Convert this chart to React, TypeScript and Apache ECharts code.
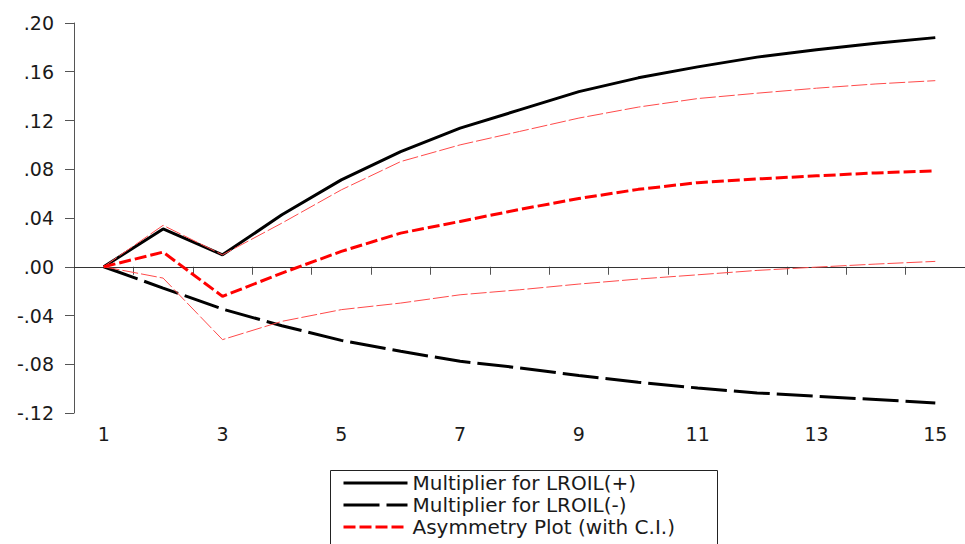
import React, { useEffect, useRef } from "react";
import * as echarts from "echarts";

const periods = ["1", "2", "3", "4", "5", "6", "7", "8", "9", "10", "11", "12", "13", "14", "15"];
const multPlus = [0, 0.031, 0.0098, 0.0426, 0.0713, 0.0945, 0.1137, 0.1287, 0.1437, 0.155, 0.164, 0.172, 0.178, 0.1834, 0.188];
const multMinus = [0, -0.0175, -0.0347, -0.0484, -0.0604, -0.0694, -0.0776, -0.083, -0.0893, -0.0948, -0.0995, -0.1035, -0.1063, -0.109, -0.1117];
const asymmetry = [0, 0.012, -0.0243, -0.0052, 0.0126, 0.0276, 0.0372, 0.047, 0.056, 0.0635, 0.069, 0.072, 0.0746, 0.077, 0.0787];
const upperCI = [0, 0.034, 0.0098, 0.0358, 0.0631, 0.0863, 0.1, 0.111, 0.122, 0.131, 0.138, 0.1424, 0.1465, 0.15, 0.1527];
const lowerCI = [0, -0.0093, -0.0598, -0.0448, -0.0352, -0.0298, -0.023, -0.0189, -0.0142, -0.0101, -0.0066, -0.003, -0.0003, 0.0022, 0.0044];
const legendNames = ["Multiplier for LROIL(+)", "Multiplier for LROIL(-)", "Asymmetry Plot (with C.I.)"];

const FONT = "DejaVu Sans";

function fmt(v: number): string {
  const s = v.toFixed(2);
  return s.replace("0.", ".");
}

export default function App() {
  const ref = useRef<HTMLDivElement>(null);
  useEffect(() => {
    if (!ref.current) return;
    const chart = echarts.init(ref.current, null, { renderer: "svg" });
    const ciStyle = { color: "#ff4a4a", width: 1, type: [16, 3] as any };
    chart.setOption({
      animation: false,
      backgroundColor: "#ffffff",
      grid: { left: 74, top: 23, width: 896, height: 390, containLabel: false },
      legend: {
        orient: "vertical",
        left: 342,
        top: 472,
        padding: 0,
        itemGap: 0,
        itemWidth: 64,
        itemHeight: 14,
        data: legendNames,
        itemStyle: { opacity: 0 },
        lineStyle: { width: 3 },
        textStyle: { fontFamily: FONT, fontSize: 20, lineHeight: 22, color: "#1a1a1a" },
      },
      graphic: [
        {
          type: "rect",
          shape: { x: 330.5, y: 470.5, width: 387, height: 90 },
          style: { fill: "none", stroke: "#222", lineWidth: 1 },
          silent: true,
          z: 100,
        },
      ],
      xAxis: {
        type: "category",
        data: periods,
        boundaryGap: true,
        axisLine: { show: true, lineStyle: { color: "#555", width: 1 } },
        axisTick: { show: true, interval: 0, length: 8, lineStyle: { color: "#555" } },
        axisLabel: {
          interval: 1,
          margin: 11,
          fontFamily: FONT,
          fontSize: 19,
          color: "#1a1a1a",
        },
        splitLine: { show: false },
      },
      yAxis: {
        type: "value",
        min: -0.12,
        max: 0.2,
        interval: 0.04,
        axisLine: { show: true, lineStyle: { color: "#555", width: 1 } },
        axisTick: { show: true, length: 9, lineStyle: { color: "#555" } },
        axisLabel: {
          margin: 20,
          fontFamily: FONT,
          fontSize: 19,
          color: "#1a1a1a",
          formatter: (v: number) => fmt(v),
        },
        splitLine: { show: false },
      },
      series: [
        {
          name: legendNames[0],
          type: "line",
          data: multPlus,
          symbol: "none",
          lineStyle: { color: "#000", width: 3, type: "solid" },
          itemStyle: { color: "#000" },
          z: 3,
          markLine: {
            silent: true,
            symbol: ["none", "none"],
            label: { show: false },
            lineStyle: { color: "#333", width: 1, type: "solid" },
            data: [{ yAxis: 0 }],
            z: 1,
          },
        },
        {
          name: legendNames[1],
          type: "line",
          data: multMinus,
          symbol: "none",
          lineStyle: { color: "#000", width: 3, type: [36, 7] },
          itemStyle: { color: "#000" },
          z: 3,
        },
        {
          name: "Upper C.I.",
          type: "line",
          data: upperCI,
          symbol: "none",
          lineStyle: ciStyle,
          itemStyle: { color: "#ff4a4a" },
          z: 4,
        },
        {
          name: "Lower C.I.",
          type: "line",
          data: lowerCI,
          symbol: "none",
          lineStyle: ciStyle,
          itemStyle: { color: "#ff4a4a" },
          z: 4,
        },
        {
          name: legendNames[2],
          type: "line",
          data: asymmetry,
          symbol: "none",
          lineStyle: { color: "#ff0000", width: 3, type: [12, 4] },
          itemStyle: { color: "#ff0000" },
          z: 5,
        },
      ],
    });
    return () => chart.dispose();
  }, []);
  return (
    <div
      ref={ref}
      style={{ position: "absolute", left: 0, top: 0, width: 965, height: 544, background: "#fff" }}
    />
  );
}
